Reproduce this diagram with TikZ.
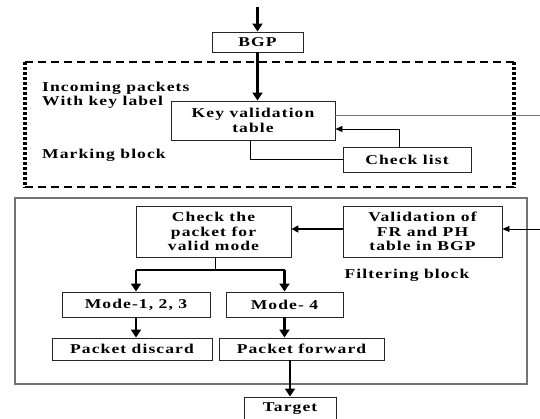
\documentclass[tikz,border=0pt]{standalone}
\usepackage{fontspec}
\newfontfamily\dgfont{Liberation Serif}[FakeStretch=1.3,LetterSpace=8]
\usetikzlibrary{arrows.meta}
\begin{document}
\begin{tikzpicture}[x=1pt,y=-1pt,
  every node/.style={font=\dgfont\bfseries\fontsize{13.5}{14.5}\selectfont},
  box/.style={draw=black!85,line width=0.9pt,inner sep=0pt,align=center},
  lbl/.style={inner sep=0pt,align=left,anchor=west},
  bigarrow/.style={line width=2.6pt,-{Triangle[width=10pt,length=8pt]}},
  medarrow/.style={line width=1.6pt,-{Triangle[width=7pt,length=7pt]}},
  smallarrow/.style={line width=0.9pt,-{Triangle[width=6pt,length=7pt]}},
  thinline/.style={line width=0.9pt},
  dashside/.style={line width=2pt,dash pattern=on 8pt off 5pt},
  dotside/.style={line width=3.5pt,dash pattern=on 3pt off 2pt}]
\useasboundingbox (0,0) rectangle (540,419);
\fill[white] (0,0) rectangle (540,419);

% block frames
\draw[dashside] (25,62) -- (514,62);
\draw[dashside] (25,187) -- (514,187);
\draw[dotside] (25,62) -- (25,188);
\draw[dotside] (514,62) -- (514,188);
\draw[draw=black!55,line width=1.4pt] (15,198) rectangle (527,384);

% nodes
\node[box,minimum width=91pt,minimum height=20pt] (bgp) at (257.5,42) {BGP};
\node[box,minimum width=164pt,minimum height=39pt] (kvt) at (253,120.5) {Key validation\\table};
\node[box,minimum width=128pt,minimum height=25pt] (cl) at (407,159.5) {Check list};
\node[box,minimum width=155pt,minimum height=51pt] (cp) at (213.5,231.5) {Check the\\packet for\\valid mode};
\node[box,minimum width=159pt,minimum height=51pt] (val) at (422.5,231.5) {Validation of\\FR and PH\\table in BGP};
\node[box,minimum width=148pt,minimum height=25pt] (m1) at (136,304.5) {Mode-1, 2, 3};
\node[box,minimum width=117pt,minimum height=25pt] (m4) at (284.5,304.5) {Mode- 4};
\node[box,minimum width=160pt,minimum height=22pt] (pd) at (132,349) {Packet discard};
\node[box,minimum width=165pt,minimum height=22pt] (pf) at (301.5,349) {Packet forward};
\node[box,minimum width=92pt,minimum height=24pt] (tg) at (290,409) {Target};

\node[lbl] (inc) at (42,88) {Incoming packets};
\node[lbl] (wkl) at (42,102) {With key label};
\node[lbl] (mb) at (42,155) {Marking block};
\node[inner sep=0pt] (fb) at (407,275) {Filtering block};

% coordinates
\coordinate (topin) at (257.5,7);
\coordinate (kvtout) at (540,115.5);
\coordinate (clt) at (399,129);
\coordinate (kb) at (250,159.5);
\coordinate (vin) at (540,229);
\coordinate (jn) at (215.5,270);

% connectors
\draw[bigarrow] (topin) -- (bgp.north);
\draw[bigarrow] (bgp.south) -- (bgp.south |- kvt.north);
\draw[thinline,draw=black!55] (kvt.east |- kvtout) -- (kvtout);
\draw[smallarrow] (cl.north -| clt) -- (clt) -- (kvt.east |- clt);
\draw[thinline] (kvt.south -| kb) -- (kb) -- (cl.west);
\draw[smallarrow] (vin) -- (val.east |- vin);
\draw[medarrow] (val.west |- vin) -- (cp.east |- vin);
\draw[thinline] (cp.south -| jn) -- (jn);
\draw[line width=1.4pt] (m1.north |- jn) -- (m4.north |- jn);
\draw[bigarrow] (m1.north |- jn) -- (m1.north);
\draw[bigarrow] (m4.north |- jn) -- (m4.north);
\draw[bigarrow] (m1.south) -- (m1.south |- pd.north);
\draw[bigarrow] (m4.south) -- (m4.south |- pf.north);
\draw[bigarrow] (tg.north |- pf.south) -- (tg.north);
\end{tikzpicture}
\end{document}
